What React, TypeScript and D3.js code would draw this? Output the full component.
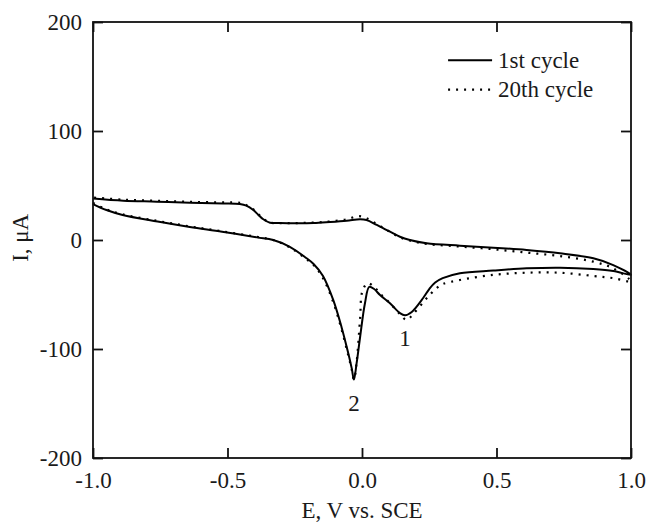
import React, { useEffect, useRef } from "react";
import * as d3 from "d3";

// potential (V vs. SCE) and current (uA), traced around the loop:
// lower branch from -1.0 to +1.0, then the upper branch back to -1.0
const cycle1E = [
    -1.0, -0.95, -0.89, -0.76, -0.64, -0.52, -0.39, -0.33, -0.27, -0.21, -0.18, -0.145, -0.107, -0.076,
    -0.051, -0.038, -0.030, -0.020, -0.007, 0.011, 0.027, 0.045, 0.067, 0.104, 0.141, 0.160, 0.185,
    0.228, 0.250, 0.272, 0.30, 0.364, 0.488, 0.612, 0.736, 0.86, 0.934, 1.0,
    0.934, 0.86, 0.736, 0.612, 0.488, 0.364, 0.24, 0.178, 0.141, 0.104, 0.055, 0.017, -0.007, -0.057,
    -0.119, -0.18, -0.243, -0.305, -0.342, -0.367, -0.385, -0.404, -0.43, -0.454, -0.516, -0.639,
    -0.763, -0.887, -1.0,
];
const cycle1I = [
    33, 27.5, 23, 17, 12, 7.6, 2.4, 0, -6, -16, -22, -33, -55, -80,
    -104, -118, -128, -113, -89, -58, -43, -45, -50.5, -58, -67, -69, -66,
    -53, -45, -39, -35, -30.5, -28, -26, -25.4, -26.6, -28.4, -32,
    -23, -16.8, -12.2, -9.2, -7, -5.2, -3, 0, 3, 7.6, 13.8, 18.3, 19, 17.7,
    16.5, 15.5, 15.3, 15.5, 15.9, 19, 23, 27.5, 31.5, 33, 33.6, 34.2,
    35.2, 36, 38,
];

const cycle20E = [
    -1.0, -0.95, -0.89, -0.76, -0.64, -0.52, -0.39, -0.33, -0.27, -0.21, -0.18, -0.145, -0.107, -0.076,
    -0.051, -0.038, -0.030, -0.020, -0.007, 0.001, 0.021, 0.045, 0.067, 0.104, 0.141, 0.166, 0.19,
    0.228, 0.253, 0.278, 0.30, 0.364, 0.488, 0.612, 0.736, 0.86, 0.934, 1.0,
    0.934, 0.86, 0.736, 0.612, 0.488, 0.364, 0.24, 0.178, 0.141, 0.104, 0.055, 0.017, -0.014, -0.057,
    -0.119, -0.18, -0.243, -0.305, -0.342, -0.367, -0.385, -0.404, -0.43, -0.454, -0.516, -0.639,
    -0.763, -0.887, -1.0,
];
const cycle20I = [
    34, 28, 23.5, 17.5, 12.5, 8, 2.8, 0, -6.5, -17, -23, -35, -57, -82,
    -106, -119, -128, -112, -72, -47.4, -39.7, -43, -49, -58, -68, -73.4, -68,
    -57, -50, -44, -40.5, -36.7, -32, -30, -30, -33, -35, -38,
    -26, -19.9, -14.7, -11.6, -8.5, -6, -3.6, -0.5, 2.5, 7.5, 14.5, 20, 22, 19,
    17, 16, 15.5, 15.5, 16, 19.5, 23.5, 28, 32, 34, 34.5, 35, 36, 37, 39,
];

const xTicks = [-1.0, -0.5, 0.0, 0.5, 1.0];
const yTicks = [-200, -100, 0, 100, 200];

const legendLabels = ["1st cycle", "20th cycle"];

// peak annotations: [label, E, I]
const peakLabels: [string, number, number][] = [
    ["1", 0.16, -69],
    ["2", -0.03, -128],
];

const W = 646, H = 525;
const margin = { top: 22, right: 15, bottom: 67, left: 93 };
const FONT = "'Liberation Serif', 'Times New Roman', serif";
const FS = 23;

// plain hyphen for negatives, as in the original figure
const fmtX = (d: d3.NumberValue) => Number(d).toFixed(1);
const fmtY = (d: d3.NumberValue) => Number(d).toFixed(0);

export default function App() {
    const xaxis_ref = useRef<SVGGElement>(null);
    const yaxis_ref = useRef<SVGGElement>(null);
    const topaxis_ref = useRef<SVGGElement>(null);
    const rightaxis_ref = useRef<SVGGElement>(null);

    const w = W - margin.left - margin.right;
    const h = H - margin.top - margin.bottom;

    const x = d3.scaleLinear().domain([-1, 1]).range([0, w]);
    const y = d3.scaleLinear().domain([-200, 200]).range([h, 0]);

    const line = d3.line<[number, number]>()
        .x(d => x(d[0]))
        .y(d => y(d[1]))
        .curve(d3.curveCatmullRom.alpha(0.5));

    const path1 = line(cycle1E.map((e, i) => [e, cycle1I[i]] as [number, number]))!;
    const path20 = line(cycle20E.map((e, i) => [e, cycle20I[i]] as [number, number]))!;

    useEffect(() => {
        const style = (g: d3.Selection<SVGGElement, unknown, null, undefined>) => {
            g.select(".domain").remove();
            g.selectAll(".tick line").attr("stroke", "#111").attr("stroke-width", 1.8);
            g.selectAll(".tick text")
                .attr("fill", "#1a1a1a")
                .attr("font-family", FONT)
                .attr("font-size", FS);
        };
        d3.select(xaxis_ref.current!)
            .call(d3.axisBottom(x).tickValues(xTicks).tickSize(-10).tickPadding(14).tickFormat(fmtX))
            .call(style);
        d3.select(yaxis_ref.current!)
            .call(d3.axisLeft(y).tickValues(yTicks).tickSize(-10).tickPadding(11).tickFormat(fmtY))
            .call(style);
        d3.select(topaxis_ref.current!)
            .call(d3.axisTop(x).tickValues(xTicks).tickSize(-10).tickFormat(() => ""))
            .call(style);
        d3.select(rightaxis_ref.current!)
            .call(d3.axisRight(y).tickValues(yTicks).tickSize(-10).tickFormat(() => ""))
            .call(style);
        d3.select(yaxis_ref.current!).selectAll(".tick text").attr("dy", "0.33em");
    }, []);

    const legX = x(0.32);
    const legY = y(165);

    return <div style={{ position: "absolute", left: 0, top: 0 }}>
        <svg width={W} height={H} style={{ display: "block", background: "#fff" }}>
            <g transform={`translate(${margin.left},${margin.top})`}>
                <path d={path1} fill="none" stroke="#000" strokeWidth={2} strokeLinejoin="round" />
                <path d={path20} fill="none" stroke="#000" strokeWidth={2.2} strokeDasharray="2 6" />

                <g ref={xaxis_ref} transform={`translate(0,${h})`} />
                <g ref={yaxis_ref} />
                <g ref={topaxis_ref} />
                <g ref={rightaxis_ref} transform={`translate(${w},0)`} />
                <rect x={0} y={0} width={w} height={h} fill="none" stroke="#111" strokeWidth={1.8} />

                {peakLabels.map(([lab, e, i]) =>
                    <text key={lab} x={x(e)} y={y(i) + 31} textAnchor="middle"
                        fontFamily={FONT} fontSize={FS} fill="#1a1a1a">{lab}</text>
                )}

                {legendLabels.map((lab, k) =>
                    <g key={lab} transform={`translate(${legX},${legY + k * 29.5})`}>
                        <line x1={0} x2={44} y1={0} y2={0} stroke="#000" strokeWidth={k === 0 ? 2 : 2.2}
                            strokeDasharray={k === 0 ? undefined : "2 6"} />
                        <text x={50} y={7.5} fontFamily={FONT} fontSize={FS} fill="#1a1a1a">{lab}</text>
                    </g>
                )}
            </g>

            <text x={margin.left + x(0)} y={518} textAnchor="middle" fontFamily={FONT} fontSize={FS} fill="#1a1a1a">
                E, V vs. SCE
            </text>
            <text transform={`translate(28,${margin.top + y(2)}) rotate(-90)`} textAnchor="middle"
                fontFamily={FONT} fontSize={FS} fill="#1a1a1a">
                I, μA
            </text>
        </svg>
    </div>;
}
